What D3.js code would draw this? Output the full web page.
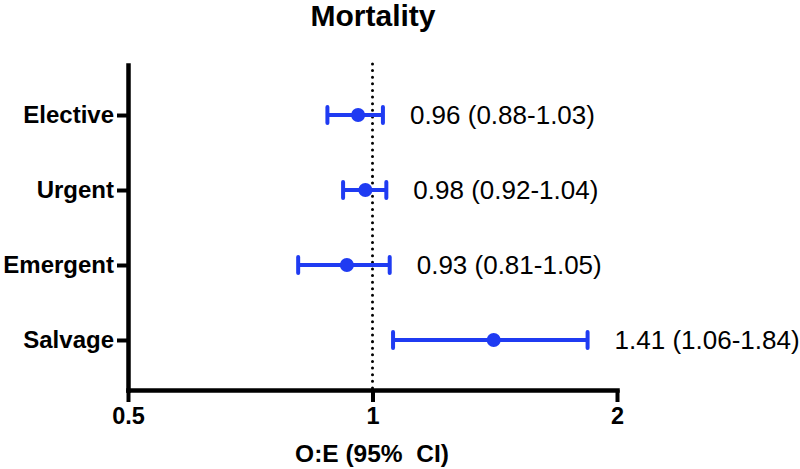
<!DOCTYPE html>
<html>
<head>
<meta charset="utf-8">
<script src="https://cdn.jsdelivr.net/npm/d3@7"></script>
<style>
  html, body { margin: 0; padding: 0; background: #fff; }
  svg { display: block; font-family: "Liberation Sans", Arial, Helvetica, sans-serif; }
</style>
</head>
<body>
<svg id="chart" width="800" height="469"></svg>
<script>
const categories = ["Elective", "Urgent", "Emergent", "Salvage"];
const estimates = [0.96, 0.98, 0.93, 1.41];
const lowerCI = [0.88, 0.92, 0.81, 1.06];
const upperCI = [1.03, 1.04, 1.05, 1.84];
const xTicks = [0.5, 1, 2];
const xTickLabels = ["0.5", "1", "2"];
const title = "Mortality";
const xTitle = "O:E (95%  CI)";
const refValue = 1;

const blue = "#1f3bf2";
const svg = d3.select("#chart");

const x = d3.scaleLog().domain([0.5, 2]).range([128, 617]);
const y = d3.scalePoint().domain(categories).range([65, 390]).padding(0.667);

// Title
svg.append("text")
  .attr("x", 373).attr("y", 26)
  .attr("text-anchor", "middle")
  .attr("font-size", 30).attr("font-weight", "bold")
  .text(title);

// Reference dotted line
svg.append("line")
  .attr("x1", x(refValue)).attr("x2", x(refValue))
  .attr("y1", 64).attr("y2", 388)
  .attr("stroke", "#000").attr("stroke-width", 3)
  .attr("stroke-linecap", "round")
  .attr("stroke-dasharray", "0.01 6.6");

// Y axis
const yAxis = svg.append("g")
  .attr("transform", `translate(${x(0.5)},0)`)
  .call(d3.axisLeft(y).tickSizeOuter(0).tickSizeInner(11).tickPadding(3));
yAxis.select(".domain").attr("stroke-width", 4.5).attr("stroke-linecap", "square");
yAxis.selectAll(".tick line").attr("stroke-width", 4);
yAxis.selectAll(".tick text")
  .attr("font-size", 24).attr("font-weight", "bold")
  .attr("font-family", "Liberation Sans, Arial, sans-serif")
  .attr("fill", "#000");

// X axis
const xAxis = svg.append("g")
  .attr("transform", "translate(0,390)")
  .call(d3.axisBottom(x).tickValues(xTicks)
    .tickFormat((d, i) => xTickLabels[i])
    .tickSizeOuter(0).tickSizeInner(12).tickPadding(5));
xAxis.select(".domain").attr("stroke-width", 4.5).attr("stroke-linecap", "square");
xAxis.selectAll(".tick line").attr("stroke-width", 4);
xAxis.selectAll(".tick text")
  .attr("font-size", 23.5).attr("font-weight", "bold")
  .attr("font-family", "Liberation Sans, Arial, sans-serif")
  .attr("fill", "#000");

// X title
svg.append("text")
  .attr("x", 372).attr("y", 462)
  .attr("text-anchor", "middle")
  .attr("font-size", 24.5).attr("font-weight", "bold")
  .style("white-space", "pre")
  .attr("xml:space", "preserve")
  .text(xTitle);

// Error bars
const rows = categories.map((c, i) => ({c, est: estimates[i], lo: lowerCI[i], hi: upperCI[i]}));
const g = svg.append("g");
const capH = 8;
rows.forEach(r => {
  const yy = y(r.c);
  g.append("line")
    .attr("x1", x(r.lo)).attr("x2", x(r.hi))
    .attr("y1", yy).attr("y2", yy)
    .attr("stroke", blue).attr("stroke-width", 4);
  [r.lo, r.hi].forEach(v => {
    g.append("line")
      .attr("x1", x(v)).attr("x2", x(v))
      .attr("y1", yy - capH).attr("y2", yy + capH)
      .attr("stroke", blue).attr("stroke-width", 4)
      .attr("stroke-linecap", "round");
  });
  g.append("circle")
    .attr("cx", x(r.est)).attr("cy", yy).attr("r", 7)
    .attr("fill", blue);
  g.append("text")
    .attr("x", x(r.hi) + 27).attr("y", yy + 9)
    .attr("font-size", 26)
    .attr("fill", "#000")
    .text(`${r.est.toFixed(2)} (${r.lo.toFixed(2)}-${r.hi.toFixed(2)})`);
});
</script>
</body>
</html>
